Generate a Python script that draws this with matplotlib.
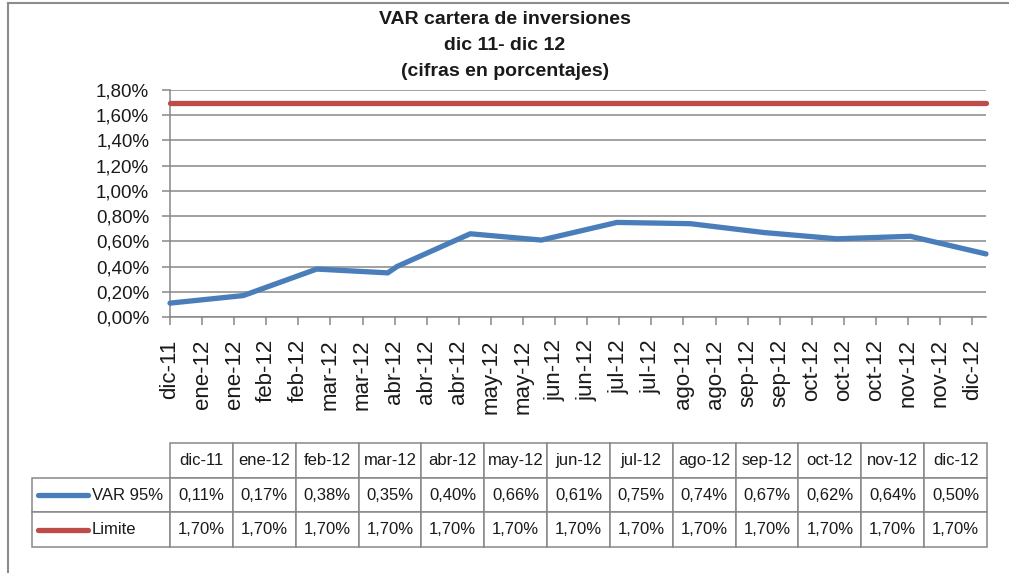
import numpy as np
import matplotlib
matplotlib.use('Agg')
import matplotlib.pyplot as plt
import matplotlib.dates as mdates
from matplotlib.lines import Line2D
from matplotlib.ticker import FuncFormatter

plt.rcParams['font.family'] = ['Liberation Sans', 'DejaVu Sans']

# datos (fechas aproximadas leidas del eje de fechas)
fechas = np.array(['2011-12-26', '2012-01-27', '2012-02-28', '2012-03-30', '2012-04-03',
                   '2012-05-05', '2012-06-05', '2012-07-08', '2012-08-09', '2012-09-10',
                   '2012-10-12', '2012-11-13', '2012-12-16'], dtype='datetime64[D]')
var95 = [0.11, 0.17, 0.38, 0.35, 0.40, 0.66, 0.61, 0.75, 0.74, 0.67, 0.62, 0.64, 0.50]
limite = [1.70] * 13
meses_tabla = ['dic-11', 'ene-12', 'feb-12', 'mar-12', 'abr-12', 'may-12', 'jun-12',
               'jul-12', 'ago-12', 'sep-12', 'oct-12', 'nov-12', 'dic-12']
meses_es = ['ene', 'feb', 'mar', 'abr', 'may', 'jun', 'jul', 'ago', 'sep', 'oct', 'nov', 'dic']
titulo = ['VAR cartera de inversiones', 'dic 11- dic 12', '(cifras en porcentajes)']

azul = '#4a7ebb'
rojo = '#be4b48'
gris = '#878787'
texto = '#1a1a1a'


def pct(v):
    return f"{v:.2f}%".replace('.', ',')


W, H = 1009, 573
fig = plt.figure(figsize=(W / 100, H / 100), dpi=100)

# titulo (tres lineas)
for linea, yp in zip(titulo, [20, 46, 71]):
    fig.text(505 / W, 1 - yp / H, linea, ha='center', va='center',
             fontsize=14, fontweight='bold', color=texto)

# grafico
ax = fig.add_axes([170 / W, 256 / H, 816 / W, 227 / H])
x = mdates.date2num(fechas)
ax.plot(x, limite, color=rojo, lw=3.8, solid_capstyle='round', clip_on=False, zorder=3)
ax.plot(x, var95, color=azul, lw=3.8, solid_capstyle='round', solid_joinstyle='round',
        clip_on=False, zorder=3)

ax.set_xlim(x[0], x[-1])
ax.set_ylim(0, 1.8)
ax.set_yticks(np.linspace(0, 1.8, 10))
ax.yaxis.set_major_formatter(FuncFormatter(lambda v, _: pct(v)))

# eje de fechas con marcas cada 14 dias
ticks = np.arange(fechas[0], fechas[-1], np.timedelta64(14, 'D'))
etiquetas = []
for d in ticks:
    m = d.astype('datetime64[M]').astype(int) % 12
    y = d.astype('datetime64[Y]').astype(int) + 1970
    etiquetas.append(f"{meses_es[m]}-{y % 100:02d}")
ax.set_xticks(mdates.date2num(ticks))
ax.set_xticklabels(etiquetas, rotation=90)

ax.grid(axis='y', color=gris, lw=1.1)
ax.set_axisbelow(True)
for s in ['top', 'right']:
    ax.spines[s].set_visible(False)
for s in ['left', 'bottom']:
    ax.spines[s].set_color(gris)
    ax.spines[s].set_linewidth(1.1)
ax.tick_params(axis='y', length=6, width=1.1, color=gris, pad=9, labelsize=13.5, labelcolor=texto)
ax.tick_params(axis='x', length=6, width=1.1, color=gris, pad=10, labelsize=16, labelcolor=texto)

# tabla de datos
tax = fig.add_axes([32 / W, 26 / H, 955 / W, 104 / H])
tax.axis('off')
celdas = [[''] + meses_tabla,
          [''] + [pct(v) for v in var95],
          [''] + [pct(v) for v in limite]]
anchos = [138 / 955] + [817 / 13 / 955] * 13
tbl = tax.table(cellText=celdas, colWidths=anchos, bbox=[0, 0, 1, 1], cellLoc='center')
tbl.auto_set_font_size(False)
tbl.set_fontsize(12)
for (r, c), cell in tbl.get_celld().items():
    cell.set_edgecolor(gris)
    cell.set_linewidth(1.1)
    cell.get_text().set_color(texto)
    if r == 0 and c == 0:
        cell.visible_edges = ''

# leyenda dentro de la tabla
for nombre, color, yc in [('VAR 95%', azul, 0.5), ('Limite', rojo, 0.167)]:
    tax.plot([0.0063, 0.0586], [yc, yc], transform=tax.transAxes, color=color, lw=3.8,
             solid_capstyle='round', clip_on=False)
    tax.text(0.0628, yc, nombre, transform=tax.transAxes, ha='left', va='center',
             fontsize=12, color=texto)

# marco del grafico
fig.add_artist(Line2D([8 / W, 1], [1 - 3 / H, 1 - 3 / H], transform=fig.transFigure, color='#8c8c8c', lw=1.5))
fig.add_artist(Line2D([8 / W, 8 / W], [0, 1 - 3 / H], transform=fig.transFigure, color='#8c8c8c', lw=1.5))

fig.savefig('out.png', dpi=100)
